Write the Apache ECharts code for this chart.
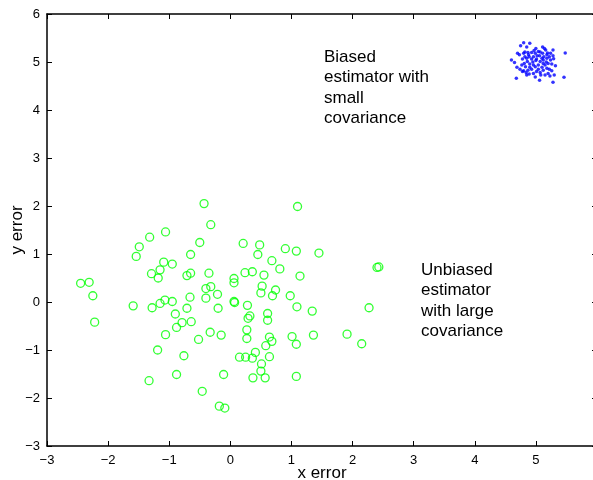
<!DOCTYPE html>
<html>
<head>
<meta charset="utf-8">
<script src="https://cdn.jsdelivr.net/npm/echarts@6/dist/echarts.min.js"></script>
<style>
  html, body { margin: 0; padding: 0; background: #fff; }
  #chart { width: 593px; height: 480px; }
</style>
</head>
<body>
<div id="chart"></div>
<script>
// unbiased estimator errors (green circles)
const unbiasedX = [-0.43, -0.32, -1.06, -1.32, -0.50, -1.49, -1.54, -0.65, -1.09, -0.95,
  -1.15, -1.29, -1.18, -0.71, -0.65, -0.35, -2.45, -2.31, -0.40, -0.32,
  0.06, 0.06, -2.25, -0.66, -0.40, -0.21, 0.06, 0.07, -1.59, -1.28,
  -1.15, -1.07, -0.95, -0.71, -0.20, -0.90, -2.22, -0.79, -0.88, -0.64,
  -1.06, -0.52, -0.33, -0.15, -1.19, -0.76, -0.88, -1.33, -0.11, -0.46,
  -0.18, -0.09, 1.10, 0.21, 0.48, 0.45, 0.90, 1.08, 1.45, 0.68,
  0.81, 2.40, 2.43, 0.24, 0.36, 0.55, 1.14, 0.52, 0.74, 0.50,
  0.69, 0.98, 0.28, 1.09, 1.34, 2.27, 0.32, 0.29, 0.61, 0.61,
  0.27, 0.27, 0.64, 0.68, 0.58, 1.01, 1.08, 1.36, 1.91, 2.15,
  0.41, 0.15, 0.25, 0.36, 0.64, 0.51, 0.50, 0.37, 0.57, 1.08]
const unbiasedY = [2.05, 1.61, 1.46, 1.35, 1.24, 1.15, 0.95, 0.99, 0.83, 0.79,
  0.67, 0.59, 0.50, 0.55, 0.60, 0.60, 0.39, 0.41, 0.28, 0.32,
  0.49, 0.40, 0.13, 0.10, 0.08, 0.16, 0.01, -0.01, -0.08, -0.12,
  -0.03, 0.04, 0.01, -0.13, -0.13, -0.25, -0.42, -0.43, -0.53, -0.41,
  -0.68, -0.78, -0.63, -0.69, -1.00, -1.12, -1.51, -1.64, -1.51, -1.86,
  -2.17, -2.21, 1.99, 1.22, 1.19, 0.99, 1.11, 1.06, 1.02, 0.86,
  0.69, 0.72, 0.73, 0.61, 0.63, 0.56, 0.54, 0.33, 0.25, 0.19,
  0.13, 0.13, -0.07, -0.10, -0.19, -0.12, -0.29, -0.34, -0.24, -0.38,
  -0.58, -0.76, -0.73, -0.82, -0.91, -0.72, -0.88, -0.69, -0.67, -0.87,
  -1.05, -1.15, -1.15, -1.17, -1.14, -1.29, -1.44, -1.58, -1.58, -1.55]

// biased estimator errors (blue dots)
const biasedX = [4.80, 4.75, 4.90, 4.85, 4.70, 4.73, 4.80, 4.82, 4.87, 4.93,
  4.97, 5.00, 5.07, 5.11, 5.14, 5.16, 5.11, 5.19, 5.28, 5.24,
  5.28, 5.48, 4.60, 4.65, 4.69, 4.78, 4.85, 4.89, 4.96, 5.01,
  5.06, 5.10, 5.13, 5.18, 5.22, 5.24, 5.29, 4.81, 4.86, 4.90,
  4.95, 5.00, 5.07, 5.12, 5.17, 5.20, 5.26, 5.32, 4.74, 4.80,
  4.84, 4.87, 4.93, 4.99, 5.04, 5.10, 5.12, 5.18, 5.22, 5.26,
  4.85, 4.89, 4.96, 5.01, 5.07, 5.15, 5.20, 5.23, 5.30, 4.68,
  4.99, 5.06, 5.28, 5.46, 4.78, 4.83, 5.04, 5.08, 4.93, 5.02,
  5.12, 4.88, 4.82, 5.18, 4.99, 5.04, 4.77, 4.96, 5.15, 4.90]
const biasedY = [5.40, 5.34, 5.39, 5.31, 5.18, 5.15, 5.18, 5.21, 5.20, 5.20,
  5.24, 5.28, 5.21, 5.31, 5.28, 5.25, 5.18, 5.19, 5.25, 5.18,
  5.13, 5.19, 5.04, 4.99, 4.89, 5.06, 5.08, 5.11, 5.11, 5.06,
  5.13, 5.08, 5.11, 5.08, 5.11, 5.04, 5.07, 4.97, 5.01, 4.96,
  5.00, 5.03, 5.01, 4.97, 5.00, 4.97, 4.96, 4.92, 4.85, 4.82,
  4.78, 4.83, 4.85, 4.90, 4.94, 4.89, 4.83, 4.87, 4.85, 4.82,
  4.73, 4.75, 4.76, 4.80, 4.78, 4.73, 4.76, 4.71, 4.73, 4.66,
  4.69, 4.62, 4.58, 4.68, 4.80, 4.90, 4.85, 4.73, 5.06, 5.13,
  5.04, 5.15, 5.11, 5.15, 5.18, 5.22, 4.94, 4.94, 4.94, 4.89]

const xTicks = [-3, 6, 1]
const yTicks = [-3, 6, 1]

const FONT = 'Liberation Sans, Arial, Helvetica, sans-serif'
const minus = v => String(v).replace('-', '\u2212')

const unbiased = unbiasedX.map((x, i) => [x, unbiasedY[i]])
const biased = biasedX.map((x, i) => [x, biasedY[i]])

const axisCommon = {
    type: 'value',
    axisLine: { onZero: false, lineStyle: { color: '#000', width: 1.5 } },
    axisTick: { inside: true, length: 5, lineStyle: { color: '#000', width: 1 } },
    splitLine: { show: false }
}

const chart = echarts.init(document.getElementById('chart'), null, { renderer: 'canvas' })
chart.setOption({
    backgroundColor: '#fff',
    animation: false,
    grid: { left: 47, right: -4, top: 14, bottom: 34, containLabel: false, outerBoundsMode: 'none' },
    xAxis: [
        {
            ...axisCommon,
            min: xTicks[0], max: xTicks[1], interval: xTicks[2],
            name: 'x error',
            nameLocation: 'middle',
            nameGap: 19,
            nameMoveOverlap: false,
            nameTextStyle: { color: '#000', fontSize: 17, fontFamily: FONT },
            axisLabel: {
                color: '#000', fontSize: 13, fontFamily: FONT, margin: 8,
                formatter: v => v === 6 ? '' : minus(v)
            }
        },
        {
            ...axisCommon,
            position: 'top',
            min: xTicks[0], max: xTicks[1], interval: xTicks[2],
            axisLabel: { show: false }
        }
    ],
    yAxis: [
        {
            ...axisCommon,
            min: yTicks[0], max: yTicks[1], interval: yTicks[2],
            name: 'y error',
            nameLocation: 'middle',
            nameGap: 21,
            nameMoveOverlap: false,
            nameTextStyle: { color: '#000', fontSize: 17, fontFamily: FONT },
            axisLabel: {
                color: '#000', fontSize: 13, fontFamily: FONT, margin: 7,
                formatter: v => minus(v)
            }
        },
        {
            ...axisCommon,
            position: 'right',
            min: yTicks[0], max: yTicks[1], interval: yTicks[2],
            axisLabel: { show: false }
        }
    ],
    series: [
        {
            name: 'unbiased',
            type: 'scatter',
            symbol: 'circle',
            symbolSize: 8,
            itemStyle: { color: 'rgba(0,0,0,0)', borderColor: '#00ff00', borderWidth: 1.3 },
            data: unbiased
        },
        {
            name: 'biased',
            type: 'scatter',
            symbol: 'circle',
            symbolSize: 3.5,
            itemStyle: { color: '#0000ff' },
            data: biased
        }
    ],
    graphic: [
        {
            type: 'text', left: 324, top: 47,
            style: {
                text: 'Biased\nestimator with\nsmall\ncovariance',
                fill: '#000', fontSize: 17, fontFamily: FONT, lineHeight: 20.5
            }
        },
        {
            type: 'text', left: 421, top: 260,
            style: {
                text: 'Unbiased\nestimator\nwith large\ncovariance',
                fill: '#000', fontSize: 17, fontFamily: FONT, lineHeight: 20.5
            }
        }
    ]
})
</script>
</body>
</html>
